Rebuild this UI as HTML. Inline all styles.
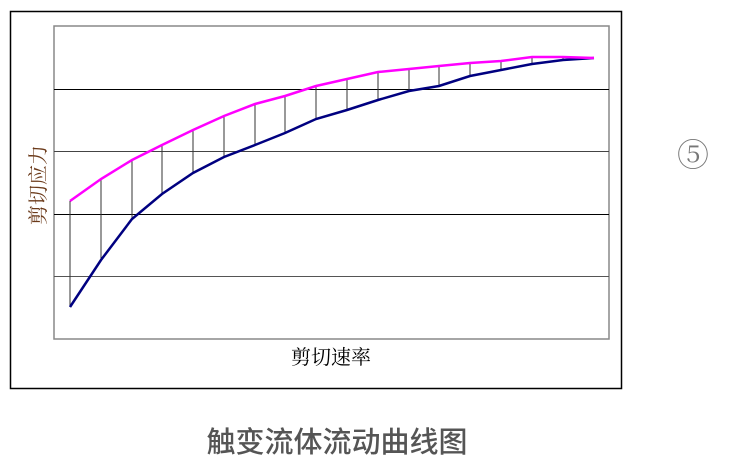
<!DOCTYPE html>
<html><head><meta charset="utf-8"><style>
body{margin:0;width:731px;height:471px;background:#fff;overflow:hidden}
text{font-family:"Liberation Serif","Noto Serif CJK SC","Noto Sans CJK SC",serif}
</style></head><body>
<svg width="731" height="471" xmlns="http://www.w3.org/2000/svg">
<rect x="10.5" y="11.5" width="611" height="377" fill="#fff" stroke="#000" stroke-width="1.5"/>
<rect x="54" y="26" width="555" height="313" fill="#fff" stroke="#888" stroke-width="1.5"/>
<g stroke="#000" stroke-width="1">
<line x1="54" y1="89.5" x2="609" y2="89.5"/>
<line x1="54" y1="151.5" x2="609" y2="151.5" stroke="#444"/>
<line x1="54" y1="214.5" x2="609" y2="214.5"/>
<line x1="54" y1="276.5" x2="609" y2="276.5" stroke="#555"/>
</g>
<g stroke="#333" stroke-width="1">
<line x1="70" y1="201" x2="70" y2="307"/><line x1="101" y1="179" x2="101" y2="260"/>
<line x1="132" y1="160" x2="132" y2="219"/><line x1="162" y1="145" x2="162" y2="194"/>
<line x1="193" y1="130" x2="193" y2="173"/><line x1="224" y1="116" x2="224" y2="157"/>
<line x1="255" y1="104" x2="255" y2="145"/><line x1="285" y1="96" x2="285" y2="133"/>
<line x1="316" y1="86" x2="316" y2="119"/><line x1="347" y1="79" x2="347" y2="110"/>
<line x1="378" y1="72" x2="378" y2="100"/><line x1="409" y1="69" x2="409" y2="91"/>
<line x1="439" y1="66" x2="439" y2="86"/><line x1="470" y1="63" x2="470" y2="76"/>
<line x1="501" y1="61" x2="501" y2="70"/><line x1="532" y1="57" x2="532" y2="64"/>
<line x1="563" y1="57" x2="563" y2="60"/>
</g>
<polyline fill="none" stroke="#000080" stroke-width="2.5" points="70,307 101,260 132,219 162,194 193,173 224,157 255,145 285,133 316,119 347,110 378,100 409,91 439,86 470,76 501,70 532,64 563,60 594,58"/>
<polyline fill="none" stroke="#ff00ff" stroke-width="2.5" points="70,201 101,179 132,160 162,145 193,130 224,116 255,104 285,96 316,86 347,79 378,72 409,69 439,66 470,63 501,61 532,57 563,57 594,58"/>
<text x="331" y="364" font-size="20" text-anchor="middle" fill="#000">剪切速率</text>
<text transform="translate(45,185) rotate(-90)" font-size="20" text-anchor="middle" fill="#6b3a1a">剪切应力</text>
<text x="693" y="166" font-size="32" text-anchor="middle" fill="#777" font-family="'DejaVu Sans',sans-serif">⑤</text>
<text x="337" y="452" font-size="29" text-anchor="middle" fill="#555" font-weight="500" style="font-family:'Noto Sans CJK SC',sans-serif">触变流体流动曲线图</text>
</svg>
</body></html>
